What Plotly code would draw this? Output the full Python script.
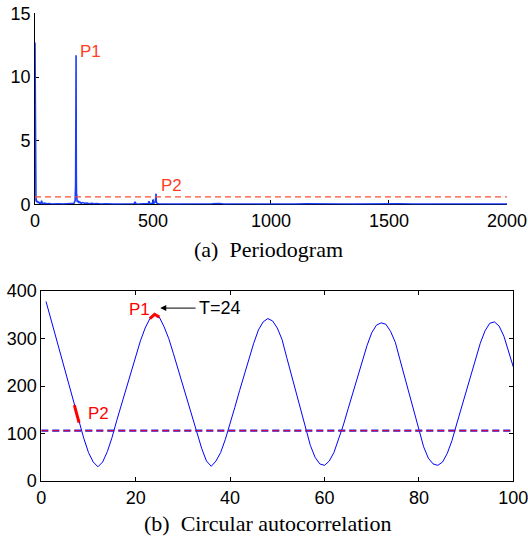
import plotly.graph_objects as go

# ---- (a) Periodogram data ----
pg_freq = [0, 1, 2, 3, 4, 5, 6, 8, 10, 12, 15, 18, 20, 25, 28, 30, 35, 40, 50, 60, 70, 80,
           100, 120, 140, 150, 160, 165, 170, 172, 173, 174, 175, 176, 177, 178, 180, 183, 186,
           190, 195, 200, 210, 220, 230, 240, 250, 260, 280, 300, 330, 360, 380, 400, 420, 424,
           428, 440, 460, 480, 483, 486, 495, 500, 501, 502, 505, 510, 512, 513, 514, 518, 525,
           540, 560, 600, 650, 700, 750, 780, 800, 850, 900, 950, 1000, 1050, 1100, 1150, 1200,
           1250, 1300, 1350, 1400, 1450, 1500, 1550, 1600, 1650, 1700, 1750, 1800, 1850, 1900,
           1950, 2000]
pg_power = [12.7, 1.3, 0.5, 1.2, 0.3, 0.45, 0.2, 0.3, 0.15, 0.25, 0.1, 0.2, 0.1, 0.08, 0.3,
            0.12, 0.06, 0.1, 0.05, 0.08, 0.04, 0.06, 0.05, 0.04, 0.06, 0.05, 0.08, 0.1, 0.3,
            1.5, 6.0, 11.7, 2.5, 0.5, 0.8, 0.3, 0.2, 0.3, 0.12, 0.2, 0.08, 0.15, 0.1, 0.12,
            0.06, 0.1, 0.05, 0.08, 0.04, 0.06, 0.03, 0.05, 0.03, 0.04, 0.06, 0.2, 0.05, 0.04,
            0.05, 0.08, 0.25, 0.06, 0.1, 0.15, 0.4, 0.1, 0.12, 0.2, 0.5, 0.85, 0.2, 0.08, 0.05,
            0.04, 0.05, 0.03, 0.04, 0.03, 0.05, 0.08, 0.03, 0.04, 0.03, 0.05, 0.03, 0.04, 0.03,
            0.05, 0.06, 0.03, 0.04, 0.03, 0.05, 0.03, 0.04, 0.06, 0.03, 0.04, 0.03, 0.05, 0.03,
            0.04, 0.03, 0.04, 0.03]
pg_threshold = 0.6

# ---- (b) Circular autocorrelation data ----
lags = list(range(1, 101))
acf = [378, 342, 306, 270, 234, 198, 160, 123, 90, 60,
       40, 30, 40, 62, 92, 128, 162, 196, 230, 263,
       295, 322, 342, 351, 345, 325, 300, 268, 235, 202,
       168, 133, 100, 68, 42, 31, 42, 60, 88, 120,
       155, 190, 225, 258, 290, 318, 335, 342, 337, 322,
       298, 260, 222, 184, 146, 109, 75, 50, 36, 33,
       42, 60, 88, 118, 152, 186, 220, 253, 285, 312,
       328, 333, 330, 315, 292, 255, 218, 180, 142, 105,
       72, 48, 36, 33, 40, 58, 85, 120, 155, 190,
       225, 258, 290, 316, 332, 335, 326, 305, 275, 240]
acf_threshold = 106
p1_lags = [23, 24, 25]
p2_lags = [7, 8]

acf_map = dict(zip(lags, acf))

fig = go.Figure()

# Top panel
fig.add_trace(go.Scatter(x=pg_freq, y=pg_power, mode="lines",
                         line=dict(color="#1a3cff", width=1.6),
                         xaxis="x", yaxis="y", showlegend=False))
fig.add_trace(go.Scatter(x=[0, 2000], y=[pg_threshold, pg_threshold], mode="lines",
                         line=dict(color="#ff4d33", width=1.2, dash="6px,4px"),
                         xaxis="x", yaxis="y", showlegend=False))

# Bottom panel
fig.add_trace(go.Scatter(x=lags, y=acf, mode="lines",
                         line=dict(color="#0000ff", width=1),
                         xaxis="x2", yaxis="y2", showlegend=False))
fig.add_trace(go.Scatter(x=[0, 100], y=[acf_threshold, acf_threshold], mode="lines",
                         line=dict(color="#2020e0", width=2.2, dash="7px,4px"),
                         xaxis="x2", yaxis="y2", showlegend=False))
fig.add_trace(go.Scatter(x=[0, 100], y=[acf_threshold, acf_threshold], mode="lines",
                         line=dict(color="#e8003a", width=1, dash="7px,4px"),
                         xaxis="x2", yaxis="y2", showlegend=False))
fig.add_trace(go.Scatter(x=p1_lags, y=[acf_map[l] for l in p1_lags], mode="lines",
                         line=dict(color="#ff0000", width=3),
                         xaxis="x2", yaxis="y2", showlegend=False))
fig.add_trace(go.Scatter(x=p2_lags, y=[acf_map[l] for l in p2_lags], mode="lines",
                         line=dict(color="#ff0000", width=3),
                         xaxis="x2", yaxis="y2", showlegend=False))

tickfont = dict(family="Liberation Sans, Arial, sans-serif", size=18, color="black")
ax_common = dict(showline=True, linecolor="black", linewidth=1, ticks="inside",
                 ticklen=4, tickcolor="black", showgrid=False, zeroline=False,
                 tickfont=tickfont, automargin=False)

fig.update_layout(
    width=528, height=542,
    margin=dict(l=0, r=0, t=0, b=0),
    paper_bgcolor="white", plot_bgcolor="white",
    xaxis=dict(domain=[0.0663, 0.9602], range=[0, 2000], tickvals=[0, 500, 1000, 1500, 2000],
               anchor="y", layer="below traces", ticklabeloverflow="allow", **ax_common),
    yaxis=dict(domain=[0.6227, 0.9755], range=[0, 15], tickvals=[0, 5, 10, 15],
               anchor="x", layer="below traces", **ax_common),
    xaxis2=dict(domain=[0.0782, 0.9722], range=[0, 100], tickvals=[0, 20, 40, 60, 80, 100],
                anchor="y2", mirror="ticks", ticklabeloverflow="allow", **ax_common),
    yaxis2=dict(domain=[0.1125, 0.4631], range=[0, 400], tickvals=[0, 100, 200, 300, 400],
                anchor="x2", mirror="ticks", **ax_common),
)

lab_font_top = dict(family="Liberation Sans, Arial, sans-serif", size=17, color="#ff3d1f")
lab_font_bot = dict(family="Liberation Sans, Arial, sans-serif", size=17, color="#ff0000")
cap_font = dict(family="Liberation Serif, Times New Roman, serif", size=22, color="black")

fig.add_annotation(x=182, y=12.0, xref="x", yref="y", text="P1", showarrow=False,
                   xanchor="left", yanchor="middle", font=lab_font_top)
fig.add_annotation(x=525, y=1.5, xref="x", yref="y", text="P2", showarrow=False,
                   xanchor="left", yanchor="middle", font=lab_font_top)
fig.add_annotation(x=18.2, y=362, xref="x2", yref="y2", text="P1", showarrow=False,
                   xanchor="left", yanchor="middle", font=lab_font_bot)
fig.add_annotation(x=9.5, y=142, xref="x2", yref="y2", text="P2", showarrow=False,
                   xanchor="left", yanchor="middle", font=lab_font_bot)
fig.add_annotation(x=33.0, y=364, xref="x2", yref="y2", text="T=24", showarrow=False,
                   xanchor="left", yanchor="middle",
                   font=dict(family="Liberation Sans, Arial, sans-serif", size=18, color="black"))
fig.add_annotation(x=25.2, y=364, xref="x2", yref="y2", ax=33.0, ay=364,
                   axref="x2", ayref="y2", text="", showarrow=True,
                   arrowhead=2, arrowsize=1.2, arrowwidth=1, arrowcolor="black")

fig.add_annotation(x=0.5076, y=(542 - 250) / 542, xref="paper", yref="paper",
                   text="(a)&nbsp; Periodogram", showarrow=False, xanchor="center",
                   yanchor="middle", font=cap_font)
fig.add_annotation(x=0.5057, y=(542 - 523) / 542, xref="paper", yref="paper",
                   text="(b)&nbsp; Circular autocorrelation", showarrow=False, xanchor="center",
                   yanchor="middle", font=cap_font)

fig.write_html("out.html", config={"displayModeBar": False},
               post_script="document.body.style.margin='0';"
                           "document.body.style.overflow='hidden';")
